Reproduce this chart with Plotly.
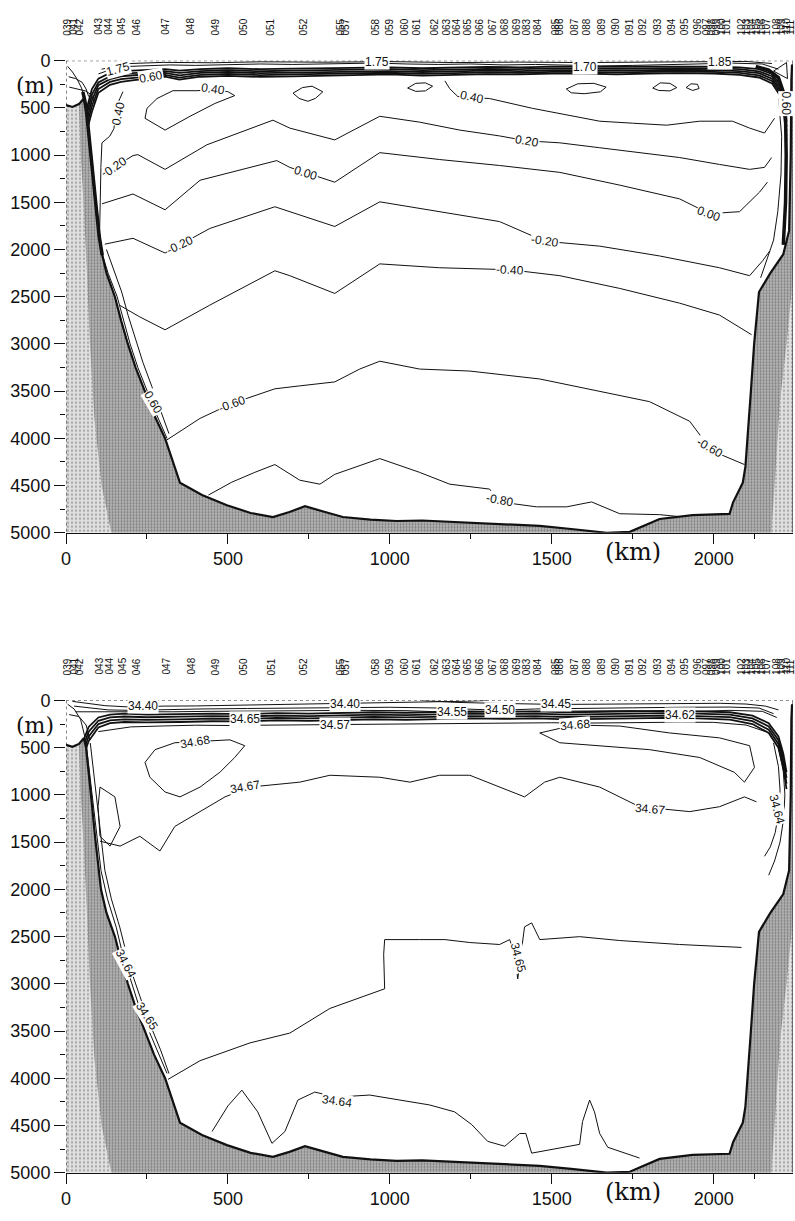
import plotly.graph_objects as go

# ---------------- data ----------------
X_MAX = 2245
Z_MAX = 5000

stations = ["039","041","042","043","044","045","046","047","048","049","050","051","052",
            "055","057","058","059","060","061","062","063","064","065","066","067","068","069",
            "083","084","085","086","087","088","089","090","091","092","093","094","095","096",
            "097","098","099","100","101","102","103","104","105","106","107","108","109","110","111"]
station_km = [6, 25, 43, 102, 133, 173, 219, 309, 386, 463, 549, 633, 734,
              849, 864, 957, 1000, 1046, 1083, 1139, 1176, 1207, 1241, 1278, 1318, 1355, 1392,
              1423, 1457, 1512, 1524, 1571, 1608, 1654, 1697, 1741, 1781, 1827, 1870, 1910, 1950,
              1978, 1994, 2009, 2024, 2040, 2086, 2102, 2117, 2132, 2148, 2163, 2194, 2210, 2225, 2237]

# bottom topography (km, m)
bathy_km = [0, 20, 40, 55, 62, 70, 80, 90, 100, 108, 125, 151, 170, 191, 215, 244, 272, 306, 330, 352,
            420, 497, 570, 639, 690, 738, 800, 855, 940, 1021, 1100, 1185, 1300, 1463, 1560, 1670, 1741,
            1790, 1833, 1935, 2049, 2060, 2090, 2098, 2105, 2115, 2125, 2140, 2175, 2215, 2233, 2238, 2240, 2242]
bathy_m = [470, 490, 460, 400, 500, 800, 1100, 1450, 1800, 2000, 2250, 2500, 2750, 3000, 3250, 3500, 3750, 4000, 4250, 4470,
           4600, 4708, 4790, 4833, 4780, 4719, 4780, 4833, 4860, 4875, 4870, 4885, 4900, 4927, 4960, 5000, 4990,
           4920, 4854, 4812, 4800, 4677, 4470, 4300, 4000, 3500, 3000, 2450, 2250, 2050, 1800, 1000, 200, 40]
# inner edge of the darker sediment shading (right to left)
shade_km = [2245, 2225, 2205, 2190, 2178, 140, 110, 88, 74, 64, 54, 44]
shade_m = [2300, 3000, 3600, 4400, 5000, 5000, 4500, 3800, 3000, 2200, 1500, 900]

# ---- potential temperature section (top) ----
tband_km = [60, 80, 100, 136, 170, 210, 268, 306, 350, 415, 500, 600, 700, 800, 900, 1000, 1100, 1200,
            1300, 1400, 1500, 1600, 1700, 1800, 1900, 2000, 2080, 2140, 2180, 2205, 2218, 2225]
t_band1 = [560, 300, 190, 130, 110, 105, 95, 90, 105, 90, 80, 90, 85, 80, 75, 70, 80, 72,
           66, 70, 62, 62, 66, 62, 58, 62, 70, 90, 140, 250, 430, 650]
t_band2 = [620, 360, 230, 165, 140, 130, 120, 110, 130, 110, 100, 112, 106, 100, 95, 90, 100, 92,
           86, 90, 82, 82, 86, 82, 78, 82, 90, 112, 165, 280, 470, 700]
t_band3 = [680, 420, 260, 195, 165, 155, 140, 130, 155, 130, 120, 132, 126, 120, 115, 110, 120, 112,
           105, 110, 100, 100, 106, 100, 96, 100, 110, 132, 190, 310, 510, 750]
t_band4 = [740, 480, 300, 225, 195, 180, 165, 150, 180, 150, 140, 152, 146, 140, 135, 128, 140, 130,
           124, 128, 118, 118, 125, 118, 114, 118, 130, 155, 215, 340, 550, 800]
t_band5 = [800, 540, 340, 255, 225, 205, 185, 170, 200, 170, 160, 172, 166, 160, 155, 146, 158, 148,
           142, 146, 136, 136, 144, 136, 132, 136, 150, 178, 240, 370, 590, 850]
t_surf_km = [100, 150, 200, 260, 320, 400, 500, 600, 700, 800, 900, 960, 1050, 1150, 1250, 1350, 1450,
             1550, 1650, 1750, 1850, 1950, 2050, 2150, 2200]
t_surf_m = [140, 80, 60, 50, 45, 50, 45, 35, 40, 35, 30, 25, 35, 40, 35, 45, 40, 50, 55, 50, 45, 35, 25, 35, 90]
t_surf2_km = [110, 200, 300, 450, 600, 800, 1000, 1200, 1400, 1600, 1800, 2000, 2100, 2180]
t_surf2_m = [90, 30, 18, 22, 12, 16, 10, 20, 15, 20, 15, 10, 8, 30]
t_shelf1_km = [5, 20, 35, 48, 56]
t_shelf1_m = [60, 120, 200, 290, 380]
t_shelf2_km = [8, 30, 50, 62, 70]
t_shelf2_m = [170, 190, 230, 300, 380]
t_shelf3_km = [10, 35, 60, 78, 88]
t_shelf3_m = [280, 300, 320, 360, 440]
t_wall_km = [52, 58, 64, 72, 82, 92, 102, 112]
t_wall_m = [330, 420, 560, 850, 1150, 1500, 1850, 2060]
t_rwall_km = [2130, 2170, 2200, 2215, 2222, 2224, 2222, 2215]
t_rwall_m = [60, 100, 180, 330, 600, 1000, 1500, 1950]
t_rw1_km = [2200, 2210, 2208, 2198, 2185, 2165, 2145]
t_rw1_m = [400, 800, 1200, 1600, 1900, 2100, 2300]

t040_loop_km = [454, 404, 330, 281, 250, 244, 306, 383, 460, 521, 500, 454]
t040_loop_m = [308, 318, 318, 401, 505, 610, 735, 589, 453, 370, 328, 308]
t040_wall_km = [176, 160, 152, 148, 135, 111, 108, 106, 104, 103]
t040_wall_m = [328, 450, 600, 720, 800, 870, 1100, 1400, 1700, 1950]
t040_km = [1170, 1185, 1210, 1253, 1308, 1441, 1546, 1648, 1750, 1855, 1957, 2058, 2111, 2157, 2188]
t040_m = [214, 297, 380, 390, 401, 505, 578, 641, 662, 683, 641, 641, 714, 766, 610]
t_loops = [
    ([701, 730, 760, 793, 770, 747, 720, 701], [344, 285, 270, 330, 400, 430, 400, 344]),
    ([1055, 1080, 1110, 1132, 1110, 1080, 1055], [290, 240, 235, 270, 320, 325, 290]),
    ([1545, 1580, 1630, 1668, 1650, 1600, 1560, 1545], [300, 245, 240, 280, 330, 350, 340, 300]),
    ([1812, 1835, 1865, 1886, 1865, 1830, 1812], [290, 235, 240, 285, 320, 315, 290]),
    ([1915, 1930, 1950, 1955, 1935, 1915], [285, 245, 250, 295, 315, 285]),
    ([2185, 2225, 2228, 2185], [110, 20, 190, 110]),
]
t020_km = [114, 207, 222, 306, 435, 639, 691, 830, 969, 1092, 1216, 1339, 1423, 1525, 1648, 1771, 1895,
           2018, 2111, 2157, 2179]
t020_m = [1203, 1005, 995, 1151, 891, 630, 714, 839, 589, 651, 735, 797, 849, 870, 922, 974, 1026,
          1099, 1151, 1130, 1026]
t000_km = [111, 207, 306, 414, 651, 691, 830, 969, 1154, 1339, 1525, 1710, 1895, 1987, 2080, 2142, 2166]
t000_m = [1516, 1412, 1579, 1266, 1058, 1130, 1287, 974, 1047, 1110, 1183, 1318, 1464, 1620, 1599, 1391, 1287]
tm020_km = [120, 207, 306, 444, 645, 691, 830, 969, 1154, 1339, 1478, 1648, 1833, 2018, 2111, 2151, 2173]
tm020_m = [1943, 1881, 2037, 1777, 1547, 1599, 1756, 1495, 1599, 1704, 1912, 1964, 2068, 2193, 2277, 2120, 2016]
tm040_km = [165, 228, 306, 444, 645, 691, 830, 969, 1154, 1370, 1525, 1710, 1895, 2018, 2117]
tm040_m = [2589, 2714, 2850, 2589, 2225, 2277, 2465, 2152, 2193, 2214, 2277, 2412, 2568, 2694, 2902]
tm060_km = [310, 414, 512, 645, 722, 830, 907, 969, 1092, 1247, 1463, 1648, 1802, 1926, 1994, 2095]
tm060_m = [4020, 3788, 3631, 3475, 3444, 3402, 3266, 3183, 3266, 3287, 3371, 3506, 3611, 3819, 4131, 4277]
tm080_km = [440, 512, 583, 645, 722, 784, 830, 969, 1092, 1185, 1308, 1339, 1453, 1546, 1623, 1710, 1833, 1895]
tm080_m = [4600, 4464, 4360, 4277, 4443, 4485, 4381, 4214, 4360, 4485, 4537, 4673, 4725, 4725, 4673, 4798, 4808, 4829]
t_slope1_km = [112, 130, 158, 178, 198, 222, 250, 280, 312]
t_slope1_m = [2050, 2250, 2500, 2750, 3000, 3250, 3500, 3750, 4000]
t_slope2_km = [125, 145, 172, 192, 214, 238, 265, 292, 318]
t_slope2_m = [2000, 2200, 2450, 2700, 2950, 3200, 3450, 3700, 3950]

t_labels = ["1.75", "1.75", "0.60", "1.70", "1.85", "0.40", "0.40", "0.40", "0.60", "0.20", "0.20",
            "0.00", "0.00", "-0.20", "-0.20", "-0.40", "-0.60", "-0.60", "-0.80", "0.60"]
t_lab_km = [960, 160, 262, 1603, 2020, 454, 1253, 160, 2222, 155, 1423,
            740, 1987, 352, 1478, 1370, 512, 1990, 1339, 268]
t_lab_m = [18, 85, 172, 70, 10, 305, 385, 560, 450, 1120, 849,
           1185, 1620, 1950, 1912, 2214, 3631, 4100, 4650, 3620]
t_lab_ang = [0, -15, -10, 0, 0, 8, 12, -78, 90, -35, 10, 18, 20, -25, 8, 3, -20, 30, 10, 60]

# ---- salinity section (bottom) ----
sband_km = [45, 70, 100, 136, 180, 250, 350, 450, 550, 650, 750, 850, 950, 1050, 1150, 1250, 1350, 1450,
            1550, 1650, 1750, 1850, 1950, 2050, 2120, 2170, 2200, 2215, 2225]
s_band1 = [500, 280, 180, 150, 140, 150, 145, 140, 145, 135, 140, 130, 125, 130, 120, 115, 120, 115,
           125, 120, 115, 110, 115, 125, 160, 240, 380, 560, 760]
s_band2 = [560, 330, 215, 180, 170, 178, 172, 165, 170, 160, 165, 155, 150, 155, 145, 140, 145, 140,
           150, 145, 140, 135, 140, 150, 190, 275, 420, 610, 820]
s_band3 = [620, 380, 250, 210, 200, 205, 200, 192, 196, 186, 190, 180, 175, 180, 170, 165, 170, 165,
           175, 170, 165, 160, 165, 176, 220, 310, 460, 660, 880]
s_band4 = [680, 430, 285, 240, 228, 232, 228, 220, 222, 212, 216, 206, 200, 205, 195, 190, 195, 190,
           200, 195, 190, 185, 190, 202, 250, 345, 500, 710, 940]
s3440_km = [20, 60, 120, 200, 238, 300, 400, 520, 640, 760, 861, 960, 1060, 1160, 1240, 1300]
s3440_m = [10, 30, 55, 70, 65, 60, 58, 52, 45, 40, 35, 28, 20, 15, 8, 0]
s3445_km = [1100, 1200, 1320, 1420, 1512, 1620, 1720, 1820, 1920, 2020, 2100, 2160, 2200]
s3445_m = [0, 20, 30, 38, 42, 40, 38, 32, 28, 30, 38, 60, 100]
s3450_km = [25, 70, 130, 200, 300, 420, 560, 700, 850, 1000, 1150, 1250, 1339, 1450, 1600, 1750, 1900,
            2050, 2140, 2185]
s3450_m = [60, 80, 100, 105, 95, 90, 85, 80, 75, 72, 80, 95, 104, 90, 80, 78, 72, 70, 80, 140]
s3455_km = [30, 80, 140, 220, 330, 450, 600, 750, 900, 1050, 1191, 1300, 1450, 1600, 1750, 1895, 2050,
            2150, 2195]
s3455_m = [120, 120, 125, 125, 120, 115, 110, 108, 105, 108, 125, 120, 115, 110, 108, 120, 105, 115, 180]
s_below_km = [100, 200, 300, 400, 500, 600, 700, 800, 900, 1000, 1100, 1200, 1300, 1400, 1500, 1600,
              1700, 1800, 1900, 2000, 2100, 2160]
s_below_m = [330, 280, 270, 262, 265, 262, 258, 260, 255, 250, 248, 245, 240, 238, 236, 240, 235, 232,
             230, 232, 260, 330]
s_shelf1_km = [5, 25, 45, 58]
s_shelf1_m = [40, 90, 200, 380]
s_shelf2_km = [10, 40, 62, 74]
s_shelf2_m = [150, 170, 260, 420]

s3468a_km = [336, 275, 244, 259, 306, 352, 414, 475, 521, 552, 506, 444, 336]
s3468a_m = [448, 521, 656, 813, 969, 1021, 917, 761, 604, 479, 417, 427, 448]
s3468b_km = [1463, 1571, 1710, 1864, 2018, 2111, 2126, 2095, 2064, 1957, 1802, 1648, 1525, 1463]
s3468b_m = [344, 260, 271, 344, 396, 479, 709, 865, 761, 604, 521, 479, 448, 344]
s3467_km = [105, 167, 228, 290, 336, 414, 491, 568, 722, 815, 969, 1062, 1154, 1247, 1339, 1416, 1478,
            1525, 1648, 1771, 1926, 2018, 2095, 2132]
s3467_m = [1490, 1542, 1438, 1594, 1334, 1177, 1021, 917, 865, 792, 813, 865, 792, 792, 917, 1021, 865,
           813, 917, 1125, 1177, 1125, 1021, 1073]
s_loopL_km = [105, 151, 167, 136, 105, 99, 105]
s_loopL_m = [917, 1021, 1334, 1542, 1438, 1125, 917]
s3465_km = [315, 414, 568, 691, 815, 938, 984, 981, 984, 1092, 1170, 1247, 1339, 1370, 1386, 1395, 1404,
            1416, 1438, 1463, 1586, 1710, 1895, 2086]
s3465_m = [4012, 3814, 3626, 3522, 3261, 3105, 3053, 2688, 2532, 2532, 2532, 2563, 2584, 2532, 2688, 2949,
           2688, 2397, 2355, 2532, 2501, 2542, 2584, 2615]
s3464_km = [451, 500, 543, 592, 636, 676, 716, 768, 836, 938, 1031, 1123, 1200, 1253, 1302, 1355, 1401,
            1420, 1438, 1515, 1586, 1595, 1617, 1632, 1648, 1673, 1771]
s3464_m = [4564, 4293, 4126, 4356, 4689, 4564, 4231, 4147, 4199, 4178, 4231, 4283, 4356, 4491, 4668, 4720,
           4585, 4585, 4793, 4741, 4700, 4460, 4231, 4356, 4585, 4731, 4845]
s_sl1_km = [62, 72, 84, 96, 108, 128, 155, 176, 198, 222, 250, 280, 312]
s_sl1_m = [450, 750, 1100, 1450, 1800, 2100, 2400, 2700, 2950, 3200, 3450, 3700, 3950]
s_sl2_km = [75, 85, 97, 108, 120, 140, 166, 188, 210, 235, 262, 292, 318]
s_sl2_m = [450, 750, 1100, 1450, 1800, 2100, 2400, 2700, 2950, 3200, 3450, 3700, 3950]
s_rw1_km = [2200, 2215, 2220, 2216, 2205, 2188, 2170]
s_rw1_m = [500, 750, 1000, 1250, 1500, 1700, 1850]
s_rw2_km = [2185, 2200, 2205, 2200, 2190, 2175, 2157]
s_rw2_m = [450, 700, 950, 1200, 1400, 1550, 1650]

s_labels = ["34.40", "34.40", "34.45", "34.50", "34.55", "34.65", "34.57", "34.62", "34.68", "34.68",
            "34.67", "34.67", "34.64", "34.65", "34.64", "34.65", "34.64"]
s_lab_km = [238, 861, 1512, 1339, 1191, 552, 830, 1895, 1571, 398, 552, 1802, 2195, 1395, 184, 250, 836]
s_lab_m = [55, 35, 42, 104, 118, 200, 258, 150, 262, 440, 917, 1146, 1150, 2720, 2780, 3340, 4240]
s_lab_ang = [0, 0, 0, 0, 0, 0, 0, 0, -5, -10, -10, 5, 75, 75, 62, 58, 8]

# ---------------- figure ----------------
fig = go.Figure()
INK = "#111111"


def line(km, m, ax, w=1.0):
    xa, ya = ("x", "y") if ax == 1 else ("x2", "y2")
    fig.add_trace(go.Scatter(x=km, y=m, mode="lines", xaxis=xa, yaxis=ya,
                             line=dict(color=INK, width=w), hoverinfo="skip", showlegend=False))


def ground(ax):
    xa, ya = ("x", "y") if ax == 1 else ("x2", "y2")
    px = bathy_km + [X_MAX, X_MAX, 0]
    py = bathy_m + [bathy_m[-1], Z_MAX, Z_MAX]
    fig.add_trace(go.Scatter(x=px, y=py, mode="none", fill="toself", xaxis=xa, yaxis=ya,
                             fillcolor="#d8d8d8",
                             fillpattern=dict(shape=".", bgcolor="#e0e0e0", fgcolor="#6a6a6a",
                                              size=4, solidity=0.25),
                             hoverinfo="skip", showlegend=False))
    sx = bathy_km[2:-1] + shade_km
    sy = bathy_m[2:-1] + shade_m
    fig.add_trace(go.Scatter(x=sx, y=sy, mode="none", fill="toself", xaxis=xa, yaxis=ya,
                             fillcolor="#ababab",
                             fillpattern=dict(shape=".", bgcolor="#b2b2b2", fgcolor="#3a3a3a",
                                              size=3, solidity=0.3),
                             hoverinfo="skip", showlegend=False))
    line(bathy_km, bathy_m, ax, 2.2)


# top panel contours
for b in (t_band1, t_band2, t_band3, t_band4, t_band5):
    line(tband_km, b, 1, 1.8)
line(t_surf_km, t_surf_m, 1)
line(t_surf2_km, t_surf2_m, 1)
for kx, my in ((t_shelf1_km, t_shelf1_m), (t_shelf2_km, t_shelf2_m), (t_shelf3_km, t_shelf3_m)):
    line(kx, my, 1)
line(t040_loop_km, t040_loop_m, 1)
line(t040_wall_km, t040_wall_m, 1)
line(t040_km, t040_m, 1)
for kx, my in t_loops:
    line(kx, my, 1)
for kx, my in ((t020_km, t020_m), (t000_km, t000_m), (tm020_km, tm020_m), (tm040_km, tm040_m),
               (tm060_km, tm060_m), (tm080_km, tm080_m), (t_slope1_km, t_slope1_m),
               (t_slope2_km, t_slope2_m), (t_rw1_km, t_rw1_m)):
    line(kx, my, 1)
ground(1)
line(t_wall_km, t_wall_m, 1, 3.5)
line(t_rwall_km, t_rwall_m, 1, 3.5)

# bottom panel contours
for b in (s_band1, s_band2, s_band3, s_band4):
    line(sband_km, b, 2, 1.8)
for kx, my in ((s3440_km, s3440_m), (s3445_km, s3445_m), (s3450_km, s3450_m), (s3455_km, s3455_m),
               (s_below_km, s_below_m), (s_shelf1_km, s_shelf1_m), (s_shelf2_km, s_shelf2_m),
               (s3468a_km, s3468a_m), (s3468b_km, s3468b_m), (s3467_km, s3467_m),
               (s_loopL_km, s_loopL_m), (s3465_km, s3465_m), (s3464_km, s3464_m),
               (s_sl1_km, s_sl1_m), (s_sl2_km, s_sl2_m), (s_rw1_km, s_rw1_m), (s_rw2_km, s_rw2_m)):
    line(kx, my, 2)
ground(2)

ann = []
LABFONT = dict(family="Liberation Sans", size=12, color=INK)
for t, k, m, a in zip(t_labels, t_lab_km, t_lab_m, t_lab_ang):
    ann.append(dict(text=t, x=k, y=m, xref="x", yref="y", showarrow=False, textangle=a,
                    font=LABFONT, bgcolor="white", borderpad=0))
for t, k, m, a in zip(s_labels, s_lab_km, s_lab_m, s_lab_ang):
    ann.append(dict(text=t, x=k, y=m, xref="x2", yref="y2", showarrow=False, textangle=a,
                    font=LABFONT, bgcolor="white", borderpad=0))
for xr, yr in (("x", "y"), ("x2", "y2")):
    xd, yd = xr + " domain", yr + " domain"
    for s, k in zip(stations, station_km):
        ann.append(dict(text=s, x=k, y=1.072, xref=xr, yref=yd, showarrow=False, textangle=-90,
                        xanchor="center", yanchor="middle",
                        font=dict(family="Liberation Sans", size=10, color=INK)))
    ann.append(dict(text="(m)", x=-0.042, y=0.948, xref=xd, yref=yd, showarrow=False,
                    xanchor="center", yanchor="middle",
                    font=dict(family="DejaVu Serif", size=22, color=INK)))
    ann.append(dict(text="(km)", x=0.78, y=-0.04, xref=xd, yref=yd, showarrow=False,
                    xanchor="center", yanchor="middle",
                    font=dict(family="DejaVu Serif", size=24, color=INK)))

shapes = []
for xr, yr in (("x", "y"), ("x2", "y2")):
    shapes.append(dict(type="line", xref=xr, yref=yr, x0=0, x1=X_MAX, y0=0, y1=0,
                       line=dict(color=INK, width=1, dash="dot")))
    shapes.append(dict(type="line", xref=xr, yref=yr, x0=X_MAX, x1=X_MAX, y0=0, y1=Z_MAX,
                       line=dict(color=INK, width=1)))
    shapes.append(dict(type="line", xref=xr, yref=yr, x0=0, x1=0, y0=0, y1=Z_MAX,
                       line=dict(color=INK, width=1, dash="dot")))

TICKFONT = dict(family="Liberation Sans", size=18, color=INK)


def xaxis(anchor):
    return dict(anchor=anchor, domain=[0, 1], range=[0, X_MAX], tickvals=[0, 500, 1000, 1500, 2000],
                ticks="outside", ticklen=10, tickwidth=1, tickcolor=INK, showline=True,
                linecolor=INK, linewidth=1, showgrid=False, zeroline=False, tickfont=TICKFONT,
                minor=dict(tickvals=[250, 750, 1250, 1750, 2125], ticks="outside", ticklen=5,
                           tickcolor=INK, showgrid=False))


def yaxis(anchor, dom):
    return dict(anchor=anchor, domain=dom, range=[Z_MAX, 0],
                tickvals=[0, 500, 1000, 1500, 2000, 2500, 3000, 3500, 4000, 4500, 5000],
                ticks="outside", ticklen=11, tickwidth=1, tickcolor=INK, showline=False,
                showgrid=False, zeroline=False, tickfont=TICKFONT,
                minor=dict(tickvals=[250, 750, 1250, 1750, 2250, 2750, 3250, 3750, 4250, 4750],
                           ticks="outside", ticklen=5, tickcolor=INK, showgrid=False))


fig.update_layout(
    width=795, height=1221,
    margin=dict(l=66, r=2, t=0, b=0),
    paper_bgcolor="white", plot_bgcolor="white",
    xaxis=xaxis("y"), yaxis=yaxis("x", [0.5647, 0.9578]),
    xaxis2=xaxis("y2"), yaxis2=yaxis("x2", [0.0319, 0.4251]),
    annotations=ann, shapes=shapes, showlegend=False,
)

fig.write_html("out.html")
